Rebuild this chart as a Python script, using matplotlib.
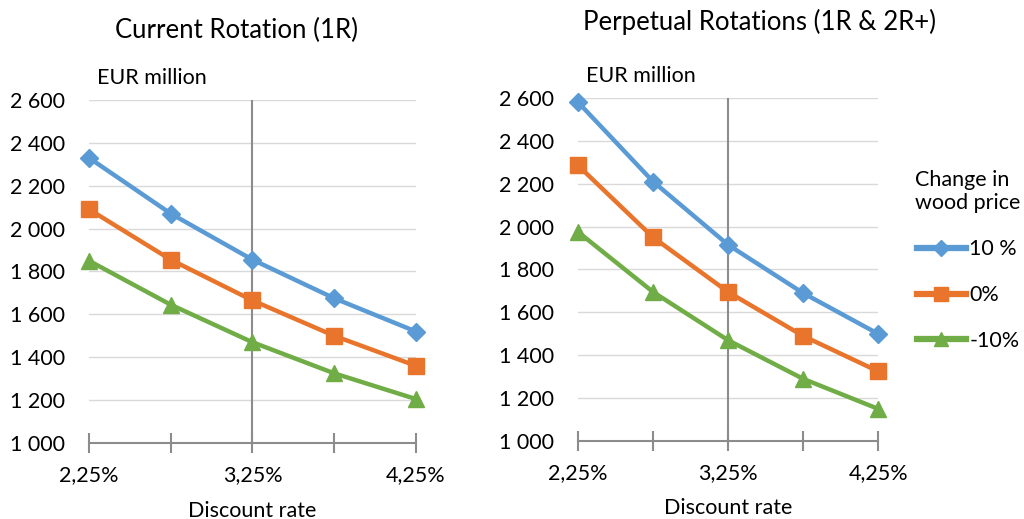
import matplotlib
matplotlib.use("Agg")
import matplotlib.pyplot as plt
from matplotlib.ticker import FuncFormatter

# discount rates (%), labels shown every other tick
rates = [2.25, 2.75, 3.25, 3.75, 4.25]
rate_labels = ["2,25%", "", "3,25%", "", "4,25%"]

# current rotation (1R), EUR million
cur_plus10 = [2330, 2070, 1855, 1675, 1520]
cur_zero = [2090, 1855, 1665, 1500, 1360]
cur_minus10 = [1850, 1645, 1470, 1325, 1205]

# perpetual rotations (1R & 2R+), EUR million
perp_plus10 = [2580, 2210, 1915, 1690, 1500]
perp_zero = [2285, 1950, 1695, 1490, 1325]
perp_minus10 = [1975, 1695, 1470, 1290, 1150]

series_names = ["10 %", "0%", "-10%"]
colors = ["#5B9BD5", "#E8752B", "#70AD47"]
markers = ["D", "s", "^"]
msizes = [9, 12, 12]

plt.rcParams["font.family"] = ["Lato", "DejaVu Sans"]
FS = 15.5

fig = plt.figure(figsize=(10.24, 5.19), dpi=100)
ax1 = fig.add_axes([0.0869, 0.1464, 0.3193, 0.661])
ax2 = fig.add_axes([0.5645, 0.1503, 0.293, 0.661])


def fmt_thousands(v, pos):
    return f"{int(v):,}".replace(",", " ")


def draw_panel(ax, data, title, title_x, title_y):
    lines = []
    for vals, c, m, ms, name in zip(data, colors, markers, msizes, series_names):
        ln, = ax.plot(rates, vals, color=c, lw=3.2, marker=m, ms=ms,
                      clip_on=False, zorder=3, label=name)
        lines.append(ln)
    ax.set_xlim(rates[0], rates[-1])
    ax.set_ylim(1000, 2600)
    ax.set_yticks(range(1000, 2601, 200))
    ax.yaxis.set_major_formatter(FuncFormatter(fmt_thousands))
    ax.set_xticks(rates)
    ax.set_xticklabels(rate_labels)
    ax.grid(axis="y", color="#d9d9d9", lw=1)
    ax.set_axisbelow(True)
    for s in ["top", "right", "left"]:
        ax.spines[s].set_visible(False)
    ax.spines["bottom"].set_color("#8c8c8c")
    ax.spines["bottom"].set_linewidth(1.5)
    ax.axvline(3.25, color="#8c8c8c", lw=1.5, zorder=1)
    ax.tick_params(axis="y", length=0, labelsize=FS, pad=17)
    ax.tick_params(axis="x", direction="inout", length=14, width=1.5,
                   color="#8c8c8c", labelsize=FS, pad=9)
    ax.set_xlabel("Discount rate", fontsize=FS, labelpad=11)
    ax.text(0.025, 1.035, "EUR million", transform=ax.transAxes,
            fontsize=FS, ha="left", va="bottom")
    fig.text(title_x, title_y, title, fontsize=18.5, ha="center", va="center")
    return lines


draw_panel(ax1, [cur_plus10, cur_zero, cur_minus10],
           "Current Rotation (1R)", 0.2314, 0.942)
lines = draw_panel(ax2, [perp_plus10, perp_zero, perp_minus10],
                   "Perpetual Rotations (1R & 2R+)", 0.742, 0.957)

leg = fig.legend(handles=lines, labels=series_names, title="Change in\nwood price",
                 loc="upper left", bbox_to_anchor=(0.894, 0.672), frameon=False,
                 fontsize=FS, title_fontsize=FS, handlelength=2.3,
                 handletextpad=0.15, labelspacing=1.2, markerscale=0.85,
                 borderaxespad=0, borderpad=0)
leg._legend_box.align = "center"
for h in leg.get_lines():
    h.set_linewidth(4.5)

fig.savefig("out.png", dpi=100)
